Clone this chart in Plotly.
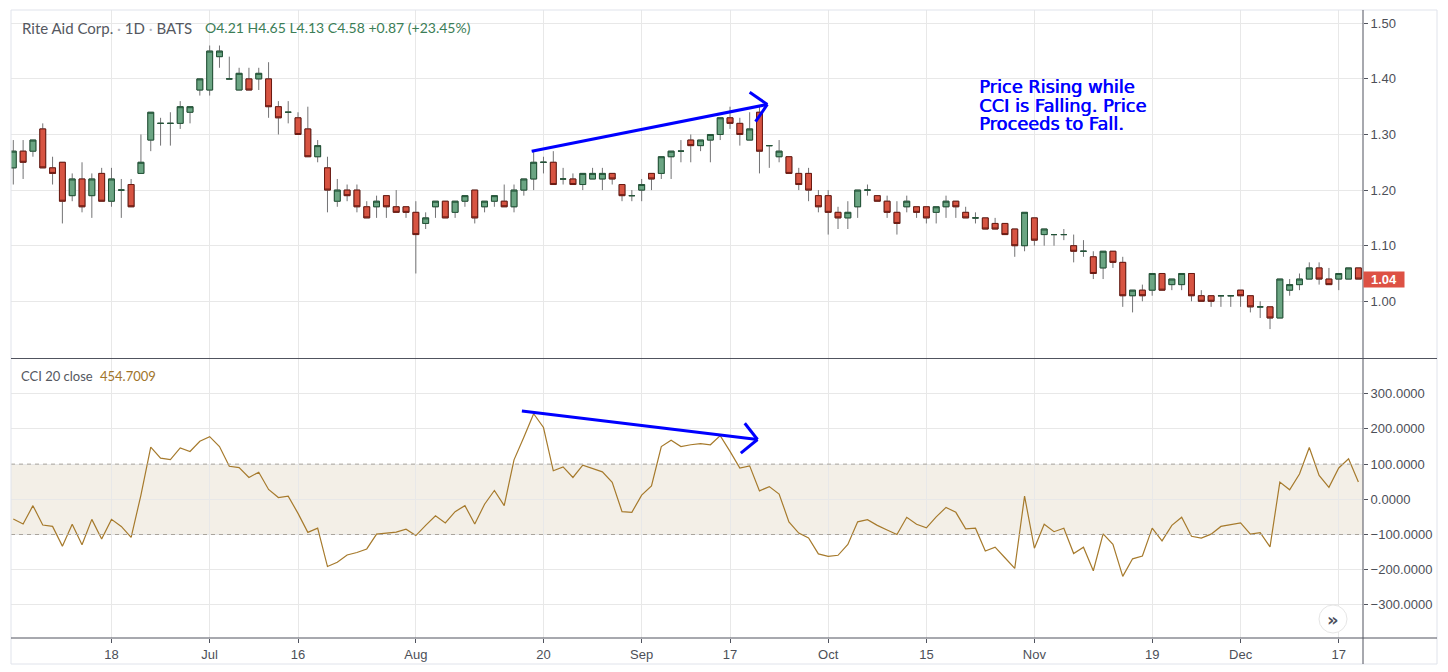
import numpy as np
import plotly.graph_objects as go

# ---------------- data ----------------
open_ = [1.24,1.27,1.27,1.31,1.24,1.25,1.19,1.22,1.19,1.23,
         1.18,1.20,1.21,1.23,1.29,1.32,1.32,1.32,1.34,1.38,
         1.38,1.44,1.40,1.38,1.40,1.40,1.40,1.35,1.34,1.33,
         1.31,1.26,1.24,1.18,1.20,1.20,1.17,1.17,1.19,1.17,
         1.17,1.16,1.14,1.17,1.18,1.16,1.18,1.20,1.17,1.18,
         1.18,1.17,1.20,1.22,1.25,1.25,1.22,1.22,1.21,1.22,
         1.22,1.23,1.21,1.19,1.20,1.23,1.23,1.26,1.27,1.29,
         1.28,1.29,1.30,1.33,1.32,1.29,1.34,1.28,1.26,1.26,
         1.23,1.23,1.19,1.19,1.16,1.15,1.17,1.20,1.19,1.18,
         1.16,1.17,1.17,1.17,1.16,1.17,1.18,1.16,1.15,1.15,
         1.14,1.14,1.13,1.10,1.15,1.12,1.12,1.12,1.10,1.09,
         1.08,1.06,1.09,1.07,1.01,1.02,1.02,1.05,1.03,1.03,
         1.05,1.01,1.01,1.01,1.01,1.02,1.01,0.99,0.99,0.97,
         1.02,1.03,1.04,1.06,1.04,1.04,1.04,1.06]
high = [1.29,1.29,1.29,1.32,1.26,1.25,1.23,1.25,1.23,1.24,
        1.24,1.22,1.22,1.30,1.34,1.33,1.34,1.36,1.35,1.40,
        1.46,1.46,1.44,1.42,1.42,1.42,1.43,1.36,1.36,1.34,
        1.35,1.29,1.26,1.22,1.21,1.21,1.18,1.19,1.19,1.20,
        1.17,1.18,1.16,1.18,1.18,1.18,1.19,1.20,1.18,1.19,
        1.21,1.21,1.22,1.27,1.26,1.27,1.24,1.23,1.23,1.24,
        1.24,1.23,1.21,1.20,1.22,1.23,1.26,1.27,1.29,1.30,
        1.29,1.30,1.33,1.35,1.33,1.34,1.35,1.28,1.29,1.26,
        1.24,1.24,1.20,1.20,1.17,1.18,1.20,1.21,1.19,1.19,
        1.18,1.19,1.17,1.17,1.17,1.19,1.18,1.17,1.16,1.15,
        1.15,1.14,1.13,1.16,1.15,1.13,1.12,1.13,1.12,1.11,
        1.09,1.09,1.09,1.08,1.02,1.03,1.05,1.05,1.04,1.05,
        1.05,1.02,1.01,1.01,1.01,1.02,1.01,1.00,0.99,1.04,
        1.04,1.05,1.07,1.07,1.06,1.05,1.06,1.06]
low = [1.21,1.22,1.26,1.24,1.21,1.14,1.18,1.16,1.15,1.18,
       1.17,1.15,1.17,1.23,1.27,1.28,1.28,1.31,1.32,1.37,
       1.37,1.42,1.40,1.38,1.38,1.38,1.33,1.30,1.32,1.30,
       1.26,1.25,1.16,1.17,1.18,1.16,1.15,1.15,1.15,1.16,
       1.15,1.05,1.13,1.15,1.15,1.15,1.17,1.14,1.16,1.17,
       1.17,1.16,1.19,1.20,1.23,1.21,1.21,1.21,1.20,1.22,
       1.20,1.21,1.18,1.18,1.18,1.20,1.22,1.22,1.25,1.25,
       1.27,1.25,1.29,1.31,1.28,1.29,1.23,1.24,1.25,1.23,
       1.20,1.18,1.16,1.12,1.13,1.13,1.15,1.19,1.18,1.15,
       1.12,1.16,1.15,1.14,1.14,1.15,1.15,1.15,1.14,1.13,
       1.13,1.12,1.08,1.09,1.10,1.10,1.10,1.11,1.07,1.08,
       1.04,1.04,1.06,0.99,0.98,1.00,1.01,1.02,1.02,1.02,
       1.00,1.00,0.99,0.99,0.99,0.99,0.98,0.97,0.95,0.97,
       1.01,1.02,1.04,1.03,1.03,1.02,1.04,1.04]
close = [1.27,1.25,1.29,1.24,1.23,1.18,1.22,1.17,1.22,1.18,
         1.22,1.20,1.17,1.25,1.34,1.32,1.32,1.35,1.35,1.40,
         1.45,1.45,1.40,1.41,1.38,1.41,1.35,1.33,1.34,1.30,
         1.26,1.28,1.20,1.20,1.19,1.17,1.15,1.18,1.17,1.16,
         1.16,1.12,1.15,1.18,1.15,1.18,1.19,1.15,1.18,1.19,
         1.17,1.20,1.22,1.25,1.25,1.21,1.22,1.21,1.23,1.23,
         1.23,1.22,1.19,1.19,1.21,1.22,1.26,1.27,1.27,1.28,
         1.29,1.30,1.33,1.32,1.30,1.31,1.27,1.28,1.27,1.23,
         1.21,1.20,1.17,1.16,1.15,1.16,1.20,1.20,1.18,1.16,
         1.14,1.18,1.16,1.15,1.17,1.18,1.17,1.15,1.15,1.13,
         1.13,1.12,1.10,1.16,1.11,1.13,1.12,1.12,1.09,1.09,
         1.05,1.09,1.07,1.01,1.02,1.01,1.05,1.02,1.04,1.05,
         1.01,1.00,1.00,1.01,1.01,1.01,0.99,0.99,0.97,1.04,
         1.03,1.04,1.06,1.04,1.03,1.05,1.06,1.04]
cci = [-56,-70,-18,-73,-77,-133,-71,-129,-57,-113,
       -57,-77,-108,12,148,117,113,146,136,165,
       178,150,94,90,62,77,28,5,9,-40,
       -94,-82,-191,-179,-158,-151,-141,-99,-96,-93,
       -85,-103,-74,-47,-67,-35,-18,-70,-14,25,
       -18,112,176,243,204,81,92,62,97,87,
       78,48,-35,-37,12,38,150,168,150,155,
       158,155,181,136,89,95,24,36,15,-64,
       -96,-110,-155,-162,-159,-128,-64,-58,-74,-87,
       -100,-51,-71,-81,-50,-23,-37,-84,-82,-147,
       -136,-166,-196,9,-139,-71,-92,-82,-154,-136,
       -203,-98,-128,-219,-169,-161,-82,-118,-74,-51,
       -105,-110,-99,-77,-72,-67,-99,-95,-135,49,
       27,72,147,68,34,89,115,49]

tick_idx = [10, 20, 29, 41, 54, 64, 73, 83, 93, 104, 116, 125, 135]
tick_text = ["18", "Jul", "16", "Aug", "20", "Sep", "17", "Oct", "15", "Nov", "19", "Dec", "17"]
price_ticks = [1.00, 1.10, 1.20, 1.30, 1.40, 1.50]
cci_ticks = [-300, -200, -100, 0, 100, 200, 300]
last_price = 1.04

# divergence drawings (bar index, value)
price_arrow = [(52.8, 1.270), (76.8, 1.354)]
price_head = [(75.0, 1.376), (76.8, 1.354), (75.6, 1.323)]
cci_arrow = [(51.8, 251), (75.8, 170)]
cci_head = [(74.5, 216), (75.8, 170), (74.1, 131)]

# ---------------- styling ----------------
W, H = 1448, 672
L, R, T, B = 11, 1363, 10, 638
def px(x): return (x - L) / (R - L)
def py(y): return (B - y) / (B - T)

UP, UP_B = "#6ba583", "#225437"
DN, DN_B = "#d75442", "#6b1a12"
WICK = "#737375"
GRID = "#e8e8e8"
AX = "#50535e"
TXT = "#4c4f58"
CCI_C = "#a67a2c"
BLUE = "#0000ff"
TICKFONT = dict(family="Liberation Sans, Arial", size=13, color=TXT)

o = np.array(open_); h = np.array(high); l = np.array(low); c = np.array(close)
idx = np.arange(len(o))
top = np.maximum(o, c); bot = np.minimum(o, c)
h = np.maximum(h, top); l = np.minimum(l, bot)
up = c >= o
dn = ~up

fig = go.Figure()
fig.add_trace(go.Candlestick(
    x=idx, open=o, high=h, low=l, close=c, xaxis="x", yaxis="y",
    increasing=dict(line=dict(color=WICK, width=1), fillcolor=WICK),
    decreasing=dict(line=dict(color=WICK, width=1), fillcolor=WICK),
    whiskerwidth=0, hoverinfo="skip", showlegend=False))
for mask, fc, lc in [(up, UP, UP_B), (dn, DN, DN_B)]:
    fig.add_trace(go.Candlestick(
        x=idx[mask], open=o[mask], high=top[mask], low=bot[mask], close=c[mask],
        xaxis="x", yaxis="y",
        increasing=dict(line=dict(color=lc, width=1), fillcolor=fc),
        decreasing=dict(line=dict(color=lc, width=1), fillcolor=fc),
        whiskerwidth=0, showlegend=False))
fig.add_trace(go.Scatter(x=idx, y=cci, xaxis="x2", yaxis="y2", mode="lines",
                         line=dict(color=CCI_C, width=1.2), showlegend=False))

xr = [-0.234, 137.47]

shapes = []
# CCI band and dashed bounds
shapes.append(dict(type="rect", xref="x2", yref="y2", x0=xr[0], x1=xr[1], y0=-100, y1=100,
                   fillcolor="#f3efe7", line=dict(width=0), layer="below"))
for v in (-100, 100):
    shapes.append(dict(type="line", xref="x2", yref="y2", x0=xr[0], x1=xr[1], y0=v, y1=v,
                       line=dict(color="#a9a49c", width=1, dash="4px,4px"), layer="above"))
# frame
RX = px(1437); BY = py(664)
frame_light = "#e0e3eb"
for (x0, y0, x1, y1) in [(0, 1, RX, 1), (0, 1, 0, BY), (RX, 1, RX, BY), (0, BY, RX, BY)]:
    shapes.append(dict(type="line", xref="paper", yref="paper", x0=x0, y0=y0, x1=x1, y1=y1,
                       line=dict(color=frame_light, width=1), layer="above"))
shapes.append(dict(type="line", xref="paper", yref="paper", x0=0, x1=RX, y0=py(358.5), y1=py(358.5),
                   line=dict(color=AX, width=1), layer="above"))
shapes.append(dict(type="line", xref="paper", yref="paper", x0=0, x1=RX, y0=0, y1=0,
                   line=dict(color=AX, width=1), layer="above"))
shapes.append(dict(type="line", xref="paper", yref="paper", x0=1, x1=1, y0=1, y1=BY,
                   line=dict(color=AX, width=1), layer="above"))
# blue divergence arrows
def poly(pts, xref, yref):
    for (xa, ya), (xb, yb) in zip(pts[:-1], pts[1:]):
        shapes.append(dict(type="line", xref=xref, yref=yref, x0=xa, y0=ya, x1=xb, y1=yb,
                           line=dict(color=BLUE, width=3), layer="above"))
poly(price_arrow, "x", "y"); poly(price_head, "x", "y")
poly(cci_arrow, "x2", "y2"); poly(cci_head, "x2", "y2")
# scroll button
shapes.append(dict(type="circle", xref="paper", yref="paper",
                   x0=px(1319), x1=px(1347), y0=py(633), y1=py(605),
                   fillcolor="white", line=dict(color="#e6e6e6", width=1), layer="above"))

annotations = [
    dict(xref="paper", yref="paper", x=px(19.5), y=py(27.8), xanchor="left", yanchor="middle",
         text="Rite Aid Corp. <span style='color:#b2b5be'>·</span> 1D <span style='color:#b2b5be'>·</span> BATS",
         showarrow=False, font=dict(family="Lato", size=15, color="#55585f")),
    dict(xref="paper", yref="paper", x=px(203), y=py(27.8), xanchor="left", yanchor="middle",
         text="O4.21 H4.65 L4.13 C4.58 +0.87 (+23.45%)",
         showarrow=False, font=dict(family="Lato", size=14, color="#3b7d56")),
    dict(xref="paper", yref="paper", x=px(19), y=py(375.5), xanchor="left", yanchor="middle",
         text="CCI 20 close", showarrow=False, font=dict(family="Lato", size=13, color="#55585f")),
    dict(xref="paper", yref="paper", x=px(98), y=py(375.5), xanchor="left", yanchor="middle",
         text="454.7009", showarrow=False, font=dict(family="Lato", size=13, color="#a0742a")),
    dict(xref="paper", yref="y", x=1, y=last_price, xanchor="left", yanchor="middle",
         text="<b>%.2f</b>" % last_price, showarrow=False, bgcolor="#dd5144", borderpad=1,
         width=38, height=13, align="center",
         font=dict(family="Liberation Sans, Arial", size=13, color="white")),
    dict(xref="paper", yref="paper", x=px(1333), y=py(619), xanchor="center", yanchor="middle",
         text="<b>»</b>", showarrow=False, font=dict(family="DejaVu Sans", size=18, color="#4a4e5c")),
]
for i, line in enumerate(["Price Rising while", "CCI is Falling. Price", "Proceeds to Fall."]):
    annotations.append(dict(xref="paper", yref="paper", x=px(976.5), y=py(86.8 + 18.5 * i),
                            xanchor="left", yanchor="middle", text=line, showarrow=False,
                            font=dict(family="DejaVu Sans", size=17.8, color=BLUE,
                                      shadow="0.7px 0px 0px #0000ff")))

fig.update_layout(
    width=W, height=H, margin=dict(l=L, r=W - R, t=T, b=H - B, pad=0),
    paper_bgcolor="white", plot_bgcolor="white", showlegend=False,
    boxgap=0.4, boxgroupgap=0, hovermode=False,
    xaxis=dict(domain=[0, 1], anchor="y", range=xr, tickvals=tick_idx, showticklabels=False,
               showgrid=True, gridcolor=GRID, zeroline=False, ticks="", showline=False,
               rangeslider=dict(visible=False)),
    xaxis2=dict(domain=[0, 1], anchor="y2", range=xr, tickvals=tick_idx, ticktext=tick_text,
                showgrid=True, gridcolor=GRID, zeroline=False, ticks="outside", ticklen=4,
                tickcolor=AX, showline=False, tickfont=TICKFONT),
    yaxis=dict(domain=[py(358), 1], anchor="x", side="right", range=[0.898, 1.5239],
               tickvals=price_ticks, ticktext=["%.2f" % v for v in price_ticks],
               showgrid=True, gridcolor=GRID, zeroline=False, ticks="outside", ticklen=4,
               tickcolor=AX, showline=False, tickfont=TICKFONT),
    yaxis2=dict(domain=[0, py(359)], anchor="x2", side="right", range=[-394, 398.6],
                tickvals=cci_ticks, tickformat=".4f", showgrid=True, gridcolor=GRID,
                zeroline=False, ticks="outside", ticklen=4, tickcolor=AX, showline=False,
                tickfont=TICKFONT),
    shapes=shapes, annotations=annotations,
)
fig.write_html("out.html")
